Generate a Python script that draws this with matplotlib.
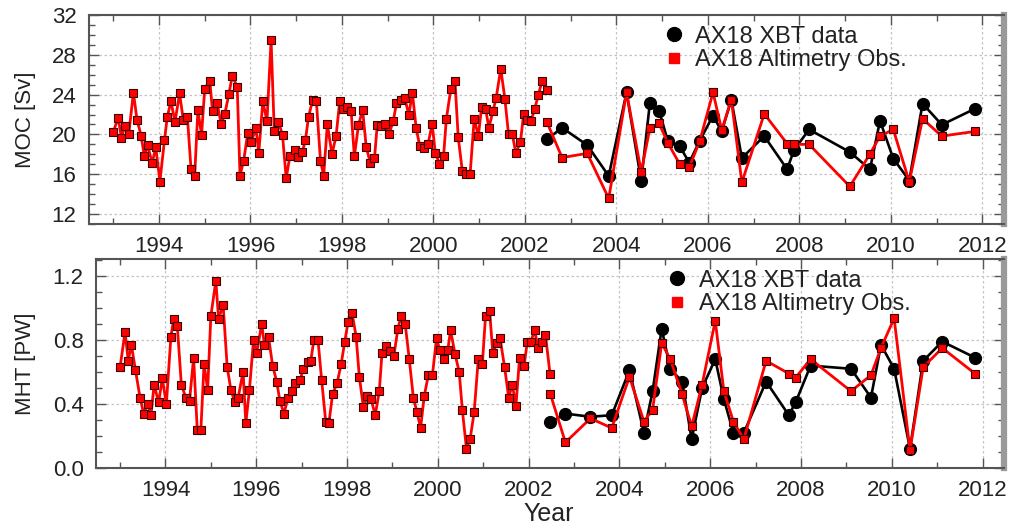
import matplotlib
matplotlib.use("Agg")
import matplotlib.pyplot as plt
from matplotlib.lines import Line2D
from matplotlib.ticker import MultipleLocator

plt.rcParams['font.family'] = ['Liberation Sans', 'DejaVu Sans']

# ---------------- data ----------------
# monthly altimetry-based estimates (dense record)
t_alt = [1993.00, 1993.11, 1993.18, 1993.25, 1993.34, 1993.44, 1993.52, 1993.61, 1993.68, 1993.75,
         1993.85, 1993.93, 1994.02, 1994.12, 1994.18, 1994.26, 1994.35, 1994.45, 1994.53, 1994.62,
         1994.70, 1994.78, 1994.85, 1994.93, 1995.00, 1995.11, 1995.17, 1995.27, 1995.36, 1995.44,
         1995.53, 1995.60, 1995.71, 1995.77, 1995.85, 1995.94, 1996.01, 1996.12, 1996.18, 1996.27,
         1996.36, 1996.45, 1996.52, 1996.61, 1996.70, 1996.78, 1996.86, 1996.97, 1997.03, 1997.13,
         1997.20, 1997.27, 1997.36, 1997.44, 1997.53, 1997.60,
         1997.68, 1997.78, 1997.87, 1997.95, 1998.02, 1998.11, 1998.20, 1998.27, 1998.36, 1998.45,
         1998.53, 1998.62, 1998.71, 1998.77, 1998.86, 1998.94, 1999.03, 1999.12, 1999.19, 1999.28,
         1999.37, 1999.46, 1999.54, 1999.62, 1999.70, 1999.79, 1999.88, 1999.97, 2000.04, 2000.13,
         2000.22, 2000.28, 2000.38, 2000.47, 2000.54, 2000.63, 2000.71, 2000.80, 2000.89, 2000.98,
         2001.05, 2001.14, 2001.21, 2001.30, 2001.37, 2001.47, 2001.56, 2001.64, 2001.72, 2001.80,
         2001.90, 2001.97, 2002.05, 2002.13, 2002.21, 2002.29, 2002.37, 2002.47]

moc_alt = [20.27, 21.67, 19.6, 20.87, 20.07, 24.2, 21.47, 19.87, 17.8, 18.93,
           17.13, 18.7, 15.27, 19.43, 21.73, 23.33, 21.27, 24.13, 21.47, 21.8,
           16.53, 15.87, 22.43, 19.97, 24.6, 25.4, 22.33, 23.2, 21.0, 22.1,
           24.1, 25.87, 24.8, 15.87, 17.33, 20.13, 19.2, 20.6, 18.13, 23.33,
           21.33, 29.47, 20.33, 21.27, 19.93, 15.6, 17.8, 18.4, 17.73, 18.2,
           19.4, 21.8, 23.47, 23.33, 17.33, 15.87,
           21.03, 18.03, 19.8, 23.33, 22.53, 22.73, 22.33, 17.8, 20.93, 22.47,
           18.73, 17.13, 17.6, 20.93, 20.8, 21.07, 20.07, 21.33, 23.13, 23.47,
           23.67, 22.0, 24.13, 20.67, 18.8, 18.67, 19.0, 21.07, 18.13, 17.07,
           17.8, 21.53, 24.6, 25.33, 19.73, 16.33, 16.0, 16.0, 21.6, 19.8,
           22.73, 22.53, 20.67, 22.33, 23.67, 26.6, 23.6, 20.0, 20.07, 18.13,
           19.2, 22.07, 21.47, 21.33, 22.53, 23.93, 25.33, 24.47]

mht_alt = [0.63, 0.85, 0.67, 0.77, 0.61, 0.44, 0.34, 0.40, 0.33, 0.52,
           0.41, 0.56, 0.40, 0.82, 0.93, 0.89, 0.52, 0.44, 0.42, 0.69,
           0.24, 0.24, 0.65, 0.49, 0.95, 1.17, 0.93, 1.02, 0.63, 0.49,
           0.41, 0.44, 0.60, 0.28, 0.49, 0.80, 0.72, 0.90, 0.77, 0.82,
           0.64, 0.54, 0.42, 0.34, 0.44, 0.48, 0.53, 0.55, 0.62, 0.66,
           0.67, 0.80, 0.80, 0.55, 0.29, 0.28,
           0.46, 0.53, 0.65, 0.79, 0.91, 0.97, 0.82, 0.57, 0.38, 0.45,
           0.43, 0.33, 0.48, 0.72, 0.76, 0.73, 0.70, 0.87, 0.95, 0.90,
           0.68, 0.44, 0.35, 0.25, 0.45, 0.58, 0.58, 0.81, 0.74, 0.68,
           0.74, 0.86, 0.71, 0.60, 0.36, 0.12, 0.18, 0.35, 0.68, 0.65,
           0.95, 0.98, 0.72, 0.78, 0.81, 0.63, 0.44, 0.52, 0.39, 0.69,
           0.64, 0.79, 0.79, 0.86, 0.75, 0.79, 0.83, 0.59]

# XBT transect times and values, with altimetry at the same times
t_xbt = [2002.48, 2002.81, 2003.36, 2003.83, 2004.22, 2004.54, 2004.73, 2004.93, 2005.12, 2005.38,
         2005.59, 2005.82, 2006.11, 2006.30, 2006.51, 2006.74, 2007.23, 2007.73, 2007.88, 2008.21,
         2009.10, 2009.54, 2009.76, 2010.05, 2010.40, 2010.69, 2011.11, 2011.83]

moc_xbt = [19.5, 20.67, 18.93, 15.83, 24.23, 15.33, 23.17, 22.4, 19.37, 18.83,
           17.17, 19.37, 21.9, 20.3, 23.5, 17.63, 19.83, 16.5, 18.43, 20.5,
           18.23, 16.5, 21.37, 17.57, 15.37, 23.1, 20.97, 22.57]
moc_alt_x = [21.23, 17.67, 18.1, 13.57, 24.23, 16.23, 20.63, 21.1, 19.17, 17.03,
             16.7, 19.33, 24.23, 20.43, 23.5, 15.17, 22.07, 19.07, 19.0, 19.0,
             14.77, 18.03, 19.83, 20.5, 15.23, 21.57, 19.83, 20.3]

mht_xbt = [0.285, 0.34, 0.32, 0.33, 0.61, 0.22, 0.48, 0.87, 0.62, 0.54,
           0.18, 0.50, 0.68, 0.43, 0.22, 0.22, 0.54, 0.33, 0.41, 0.64,
           0.62, 0.44, 0.77, 0.62, 0.12, 0.67, 0.79, 0.69]
mht_alt_x = [0.46, 0.16, 0.31, 0.25, 0.57, 0.29, 0.365, 0.78, 0.68, 0.46,
             0.26, 0.52, 0.92, 0.48, 0.29, 0.18, 0.67, 0.59, 0.565, 0.68,
             0.48, 0.58, 0.75, 0.935, 0.11, 0.63, 0.75, 0.59]

labels = ["AX18 XBT data", "AX18 Altimetry Obs."]

# ---------------- figure ----------------
W, H = 1011, 526
fig = plt.figure(figsize=(W / 100, H / 100), dpi=100)

def frac(l, t, r, b):
    return [l / W, 1 - b / H, (r - l) / W, (b - t) / H]

ax1 = fig.add_axes(frac(89, 15, 1004, 224))
ax2 = fig.add_axes(frac(96, 259, 1004, 468))

red = '#ff0000'
edge = '#3a0000'
spine_c = '#555555'

def style(ax, ylim, ymaj, ymin, fmt):
    ax.set_xlim(1992.47, 2012.47)
    ax.set_ylim(*ylim)
    ax.xaxis.set_major_locator(MultipleLocator(2))
    ax.xaxis.set_minor_locator(MultipleLocator(1))
    ax.yaxis.set_major_locator(MultipleLocator(ymaj))
    ax.yaxis.set_minor_locator(MultipleLocator(ymin))
    ax.yaxis.set_major_formatter(fmt)
    ax.grid(True, which='major', linestyle=(0, (2, 2)), color='#c4c4c4', linewidth=0.9)
    ax.tick_params(which='both', direction='in', top=True, right=True, color=spine_c,
                   labelsize=16, labelcolor='#222222')
    ax.tick_params(which='major', length=7, width=1)
    ax.tick_params(which='minor', length=4, width=1)
    ax.tick_params(axis='x', pad=9)
    ax.tick_params(axis='y', pad=9)
    for s in ['left', 'bottom', 'top']:
        ax.spines[s].set_color(spine_c)
        ax.spines[s].set_linewidth(1.5)
    ax.spines['right'].set_color('#9a9a9a')
    ax.spines['right'].set_linewidth(4.5)
    ax.set_axisbelow(True)

style(ax1, (11, 32), 4, 1, '{x:.0f}')
style(ax2, (0, 1.306), 0.4, 0.1, '{x:.1f}')

for ax, dense, xbt, altx in [(ax1, moc_alt, moc_xbt, moc_alt_x),
                             (ax2, mht_alt, mht_xbt, mht_alt_x)]:
    ax.plot(t_xbt, xbt, color='black', linewidth=1.9, marker='o', markersize=8.5,
            markerfacecolor='black', markeredgecolor='black', zorder=3)
    ax.plot(t_alt, dense, color=red, linewidth=2.0, marker='s', markersize=5.5,
            markerfacecolor=red, markeredgecolor=edge, markeredgewidth=0.8, zorder=4)
    ax.plot(t_xbt, altx, color=red, linewidth=2.0, marker='s', markersize=5.5,
            markerfacecolor=red, markeredgecolor=edge, markeredgewidth=0.8, zorder=4)

ax1.set_ylabel("MOC [Sv]", fontsize=16, color='#222222')
ax2.set_ylabel("MHT [PW]", fontsize=16, color='#222222')
ax1.yaxis.set_label_coords(-0.058, 0.5)
ax2.yaxis.set_label_coords(-0.066, 0.5)

handles = [Line2D([], [], linestyle='none', marker='o', markersize=10, color='black'),
           Line2D([], [], linestyle='none', marker='s', markersize=6.5, color=red)]
for ax, anchor in [(ax1, (0.612, 1.0)), (ax2, (0.613, 1.0))]:
    ax.legend(handles, labels, loc='upper left', bbox_to_anchor=anchor, frameon=False,
              fontsize=17, handletextpad=0.3, labelspacing=0.05, borderaxespad=0.25,
              handlelength=1.2, borderpad=0.2, labelcolor='#222222')

fig.text(549 / W, 1 - 514 / H, "Year", fontsize=18, color='#222222', ha='center', va='center')

fig.savefig("out.png", dpi=100)
